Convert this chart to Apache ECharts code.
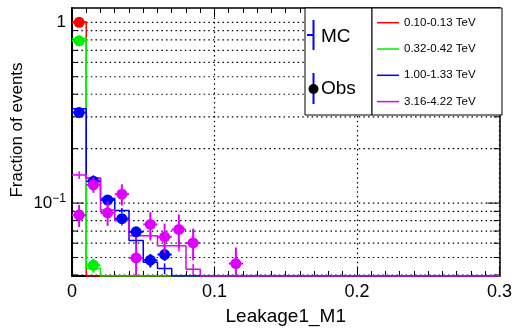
<!DOCTYPE html>
<html>
<head>
<meta charset="utf-8">
<script src="https://cdn.jsdelivr.net/npm/echarts@6/dist/echarts.min.js"></script>
<style>
  html, body { margin: 0; padding: 0; background: #ffffff; }
  #chart { width: 515px; height: 332px; }
</style>
</head>
<body>
<div id="chart"></div>
<script>
// Leakage1_M1 distributions, normalised per energy bin (log y)
const binWidth = 0.01;
const energyBins = ['0.10-0.13 TeV', '0.32-0.42 TeV', '1.00-1.33 TeV', '3.16-4.22 TeV'];
const xTickLabels = ['0', '0.1', '0.2', '0.3'];

// Monte Carlo fractions per 0.01-wide bin, starting at 0
const mcRed     = [1.0, 0];
const mcGreen   = [0.81, 0.0434];
const mcBlue    = [0.333, 0.137, 0.106, 0.091, 0.062, 0.047, 0.0434];
const mcMagenta = [0.143, 0.137, 0.0915, 0.080, 0.066, 0.066, 0.058, 0.058, 0.043];
const mcErrRed     = [0.008, 0];
const mcErrGreen   = [0.008, 0.002];
const mcErrBlue    = [0.005, 0.004, 0.003, 0.003, 0.003, 0.003, 0.003];
const mcErrMagenta = [0.007, 0.006, 0.005, 0.005, 0.004, 0.004, 0.004, 0.004, 0.003];

// Observed fractions and their uncertainties (0 = empty bin)
const obsRed     = [1.0];
const obsGreen   = [0.79, 0.0453];
const obsBlue    = [0.317, 0.132, 0.104, 0.082, 0.0693, 0.0483, 0.0519];
const obsMagenta = [0.0858, 0.126, 0.0883, 0.112, 0.0497, 0.0762, 0.065, 0.0715, 0.0602, 0, 0, 0.0463];
const obsErrRed     = [0.004];
const obsErrGreen   = [0.008, 0.004];
const obsErrBlue    = [0.006, 0.005, 0.005, 0.004, 0.004, 0.004, 0.004];
const obsErrMagenta = [0.012, 0.012, 0.0135, 0.015, 0.010, 0.013, 0.012, 0.015, 0.012, 0, 0, 0.0105];

// y grid / tick positions on the log axis
const yTickValues = [0.04, 0.05, 0.06, 0.07, 0.08, 0.09, 0.1, 0.2, 0.3, 0.4, 0.5, 0.6, 0.7, 0.8, 0.9, 1];

const xMax = 0.3;
const yMin = 0.0395, yMax = 1.2;
const colors = ['#ff0000', '#00ee00', '#0000ff', '#dd00ff'];
const FONT = 'Liberation Sans, Arial, sans-serif';

const mcSets  = [[mcRed, mcErrRed], [mcGreen, mcErrGreen], [mcBlue, mcErrBlue], [mcMagenta, mcErrMagenta]];
const obsSets = [[obsRed, obsErrRed], [obsGreen, obsErrGreen], [obsBlue, obsErrBlue], [obsMagenta, obsErrMagenta]];

// step outline points at left bin edges; empty bins sit on the axis floor
function stepPoints(vals) {
  const pts = vals.map((v, i) => [i * binWidth, Math.max(v, yMin)]);
  pts.push([vals.length * binWidth, yMin]);
  pts.push([xMax, yMin]);
  return pts;
}

function binCentres(vals, errs) {
  const out = [];
  vals.forEach((v, i) => { if (v > 0) out.push([(i + 0.5) * binWidth, v, errs[i]]); });
  return out;
}

function clampY(v) { return Math.min(Math.max(v, yMin), yMax); }

function mcErrorItem(color) {
  return function (params, api) {
    const x = api.value(0), v = api.value(1), e = api.value(2);
    const lo = api.coord([x, clampY(v - e)]);
    const hi = api.coord([x, clampY(v + e)]);
    return { type: 'line', shape: { x1: lo[0], y1: lo[1], x2: hi[0], y2: hi[1] },
             style: { stroke: color, lineWidth: 1.5 } };
  };
}

function obsItem(color) {
  return function (params, api) {
    const x = api.value(0), v = api.value(1), e = api.value(2);
    const c = api.coord([x, v]);
    const lo = api.coord([x, clampY(v - e)]);
    const hi = api.coord([x, clampY(v + e)]);
    const l = api.coord([x - binWidth / 2, v]);
    const r = api.coord([x + binWidth / 2, v]);
    return { type: 'group', children: [
      { type: 'line', shape: { x1: c[0], y1: lo[1], x2: c[0], y2: hi[1] }, style: { stroke: color, lineWidth: 2 } },
      { type: 'line', shape: { x1: l[0], y1: c[1], x2: r[0], y2: c[1] }, style: { stroke: color, lineWidth: 2 } },
      { type: 'circle', shape: { cx: c[0], cy: c[1], r: 5.5 }, style: { fill: color } }
    ] };
  };
}

// dotted horizontal grid plus inward ticks on both vertical frame edges
function yTickItem(params, api) {
  const v = api.value(1);
  const major = Math.abs(Math.log10(v) - Math.round(Math.log10(v))) < 1e-9;
  const left = api.coord([0, v]);
  const right = api.coord([xMax, v]);
  const len = major ? 12 : 6;
  return { type: 'group', children: [
    { type: 'line', shape: { x1: left[0], y1: left[1], x2: right[0], y2: right[1] },
      style: { stroke: '#000', lineWidth: 1.2, lineDash: [1.5, 3.2] } },
    { type: 'line', shape: { x1: left[0], y1: left[1], x2: left[0] + len, y2: left[1] },
      style: { stroke: '#000', lineWidth: 1 } },
    { type: 'line', shape: { x1: right[0] - len, y1: right[1], x2: right[0], y2: right[1] },
      style: { stroke: '#000', lineWidth: 1 } }
  ] };
}

const series = [];
series.push({
  type: 'custom', name: 'ygrid', z: 1, silent: true,
  data: yTickValues.map(v => [0, v]),
  renderItem: yTickItem
});
mcSets.forEach(([vals, errs], k) => {
  series.push({
    type: 'line', name: energyBins[k] + ' MC', step: 'end', z: 3 + k,
    data: stepPoints(vals), showSymbol: false, symbol: 'none', silent: true,
    lineStyle: { color: colors[k], width: 1.5 }
  });
  series.push({
    type: 'custom', name: energyBins[k] + ' MC err', z: 3 + k, silent: true,
    data: binCentres(vals, errs), renderItem: mcErrorItem(colors[k])
  });
});
obsSets.forEach(([vals, errs], k) => {
  series.push({
    type: 'custom', name: energyBins[k] + ' Obs', z: 10 + k, silent: true,
    data: binCentres(vals, errs), renderItem: obsItem(colors[k])
  });
});

// legend boxes
const legendGraphics = [
  { type: 'rect', shape: { x: 305, y: 8, width: 67, height: 107 },
    style: { fill: '#fff', stroke: '#000', lineWidth: 1 }, z: 100 },
  { type: 'rect', shape: { x: 372, y: 8, width: 130, height: 107 },
    style: { fill: '#fff', stroke: '#000', lineWidth: 1 }, z: 100 },
  { type: 'line', shape: { x1: 313.5, y1: 20, x2: 313.5, y2: 50 }, style: { stroke: '#0000ff', lineWidth: 2 }, z: 101 },
  { type: 'line', shape: { x1: 307, y1: 35, x2: 313.5, y2: 35 }, style: { stroke: '#0000ff', lineWidth: 2 }, z: 101 },
  { type: 'text', x: 321, y: 37, style: { text: 'MC', font: '19px ' + FONT, fill: '#000', verticalAlign: 'middle' }, z: 101 },
  { type: 'line', shape: { x1: 313.5, y1: 73, x2: 313.5, y2: 104 }, style: { stroke: '#0000ff', lineWidth: 2 }, z: 101 },
  { type: 'circle', shape: { cx: 313.5, cy: 89, r: 5 }, style: { fill: '#000' }, z: 102 },
  { type: 'text', x: 321, y: 89, style: { text: 'Obs', font: '19px ' + FONT, fill: '#000', verticalAlign: 'middle' }, z: 101 }
];
energyBins.forEach((name, k) => {
  const y = 22.7 + k * 26.3;
  legendGraphics.push({ type: 'line', shape: { x1: 377, y1: y, x2: 399, y2: y },
    style: { stroke: colors[k], lineWidth: 1.5 }, z: 101 });
  legendGraphics.push({ type: 'text', x: 404, y: y, style: { text: name, font: '11.5px ' + FONT,
    fill: '#000', verticalAlign: 'middle' }, z: 101 });
});
legendGraphics.push({ type: 'text', x: 17, y: 130, rotation: Math.PI / 2,
  style: { text: 'Fraction of events', font: '17px ' + FONT, fill: '#000', align: 'center', verticalAlign: 'middle' }, z: 101 });

const chart = echarts.init(document.getElementById('chart'), null, { renderer: 'canvas' });
chart.setOption({
  animation: false,
  backgroundColor: '#ffffff',
  grid: { left: 72, right: 13, top: 8, bottom: 56, containLabel: false },
  xAxis: [{
    type: 'value', min: 0, max: xMax, interval: 0.1, position: 'bottom',
    name: 'Leakage1_M1', nameLocation: 'middle', nameGap: 31,
    nameTextStyle: { fontFamily: FONT, fontSize: 19, color: '#000' },
    axisLine: { show: true, onZero: false, lineStyle: { color: '#000', width: 2 } },
    axisTick: { show: true, inside: true, length: 9, lineStyle: { color: '#000', width: 1 } },
    minorTick: { show: true, splitNumber: 10, length: 5, lineStyle: { color: '#000', width: 1 } },
    axisLabel: { fontFamily: FONT, fontSize: 18, color: '#000', margin: 7,
      formatter: v => xTickLabels[Math.round(v / 0.1)] },
    splitLine: { show: true, lineStyle: { color: '#000', width: 1.2, type: [1.5, 3.2] } }
  }, {
    type: 'value', min: 0, max: xMax, interval: 0.1, position: 'top',
    axisLine: { show: true, onZero: false, lineStyle: { color: '#000', width: 1.5 } },
    axisTick: { show: true, inside: true, length: 9, lineStyle: { color: '#000', width: 1 } },
    minorTick: { show: true, splitNumber: 10, length: 5, lineStyle: { color: '#000', width: 1 } },
    axisLabel: { show: false }, splitLine: { show: false }
  }],
  yAxis: [{
    type: 'log', logBase: 10, min: yMin, max: yMax, position: 'left',
    axisLine: { show: true, onZero: false, lineStyle: { color: '#000', width: 2 } },
    axisTick: { show: false }, minorTick: { show: false }, splitLine: { show: false },
    axisLabel: {
      color: '#000', margin: 6, showMinLabel: false, showMaxLabel: false,
      formatter: v => {
        const lg = Math.log10(v), e = Math.round(lg);
        if (Math.abs(lg - e) > 1e-6) return '';
        return e === 0 ? '{b|1}' : '{b|10}{s|\u2212' + (-e) + '}';
      },
      rich: {
        b: { fontFamily: FONT, fontSize: 17, color: '#000', lineHeight: 20 },
        s: { fontFamily: FONT, fontSize: 12, color: '#000', lineHeight: 20, verticalAlign: 'top', padding: [0, 0, 8, 0] }
      }
    }
  }, {
    type: 'log', logBase: 10, min: yMin, max: yMax, position: 'right',
    axisLine: { show: true, onZero: false, lineStyle: { color: '#000', width: 1.5 } },
    axisTick: { show: false }, axisLabel: { show: false }, splitLine: { show: false }
  }],
  series: series,
  graphic: legendGraphics
});
</script>
</body>
</html>
